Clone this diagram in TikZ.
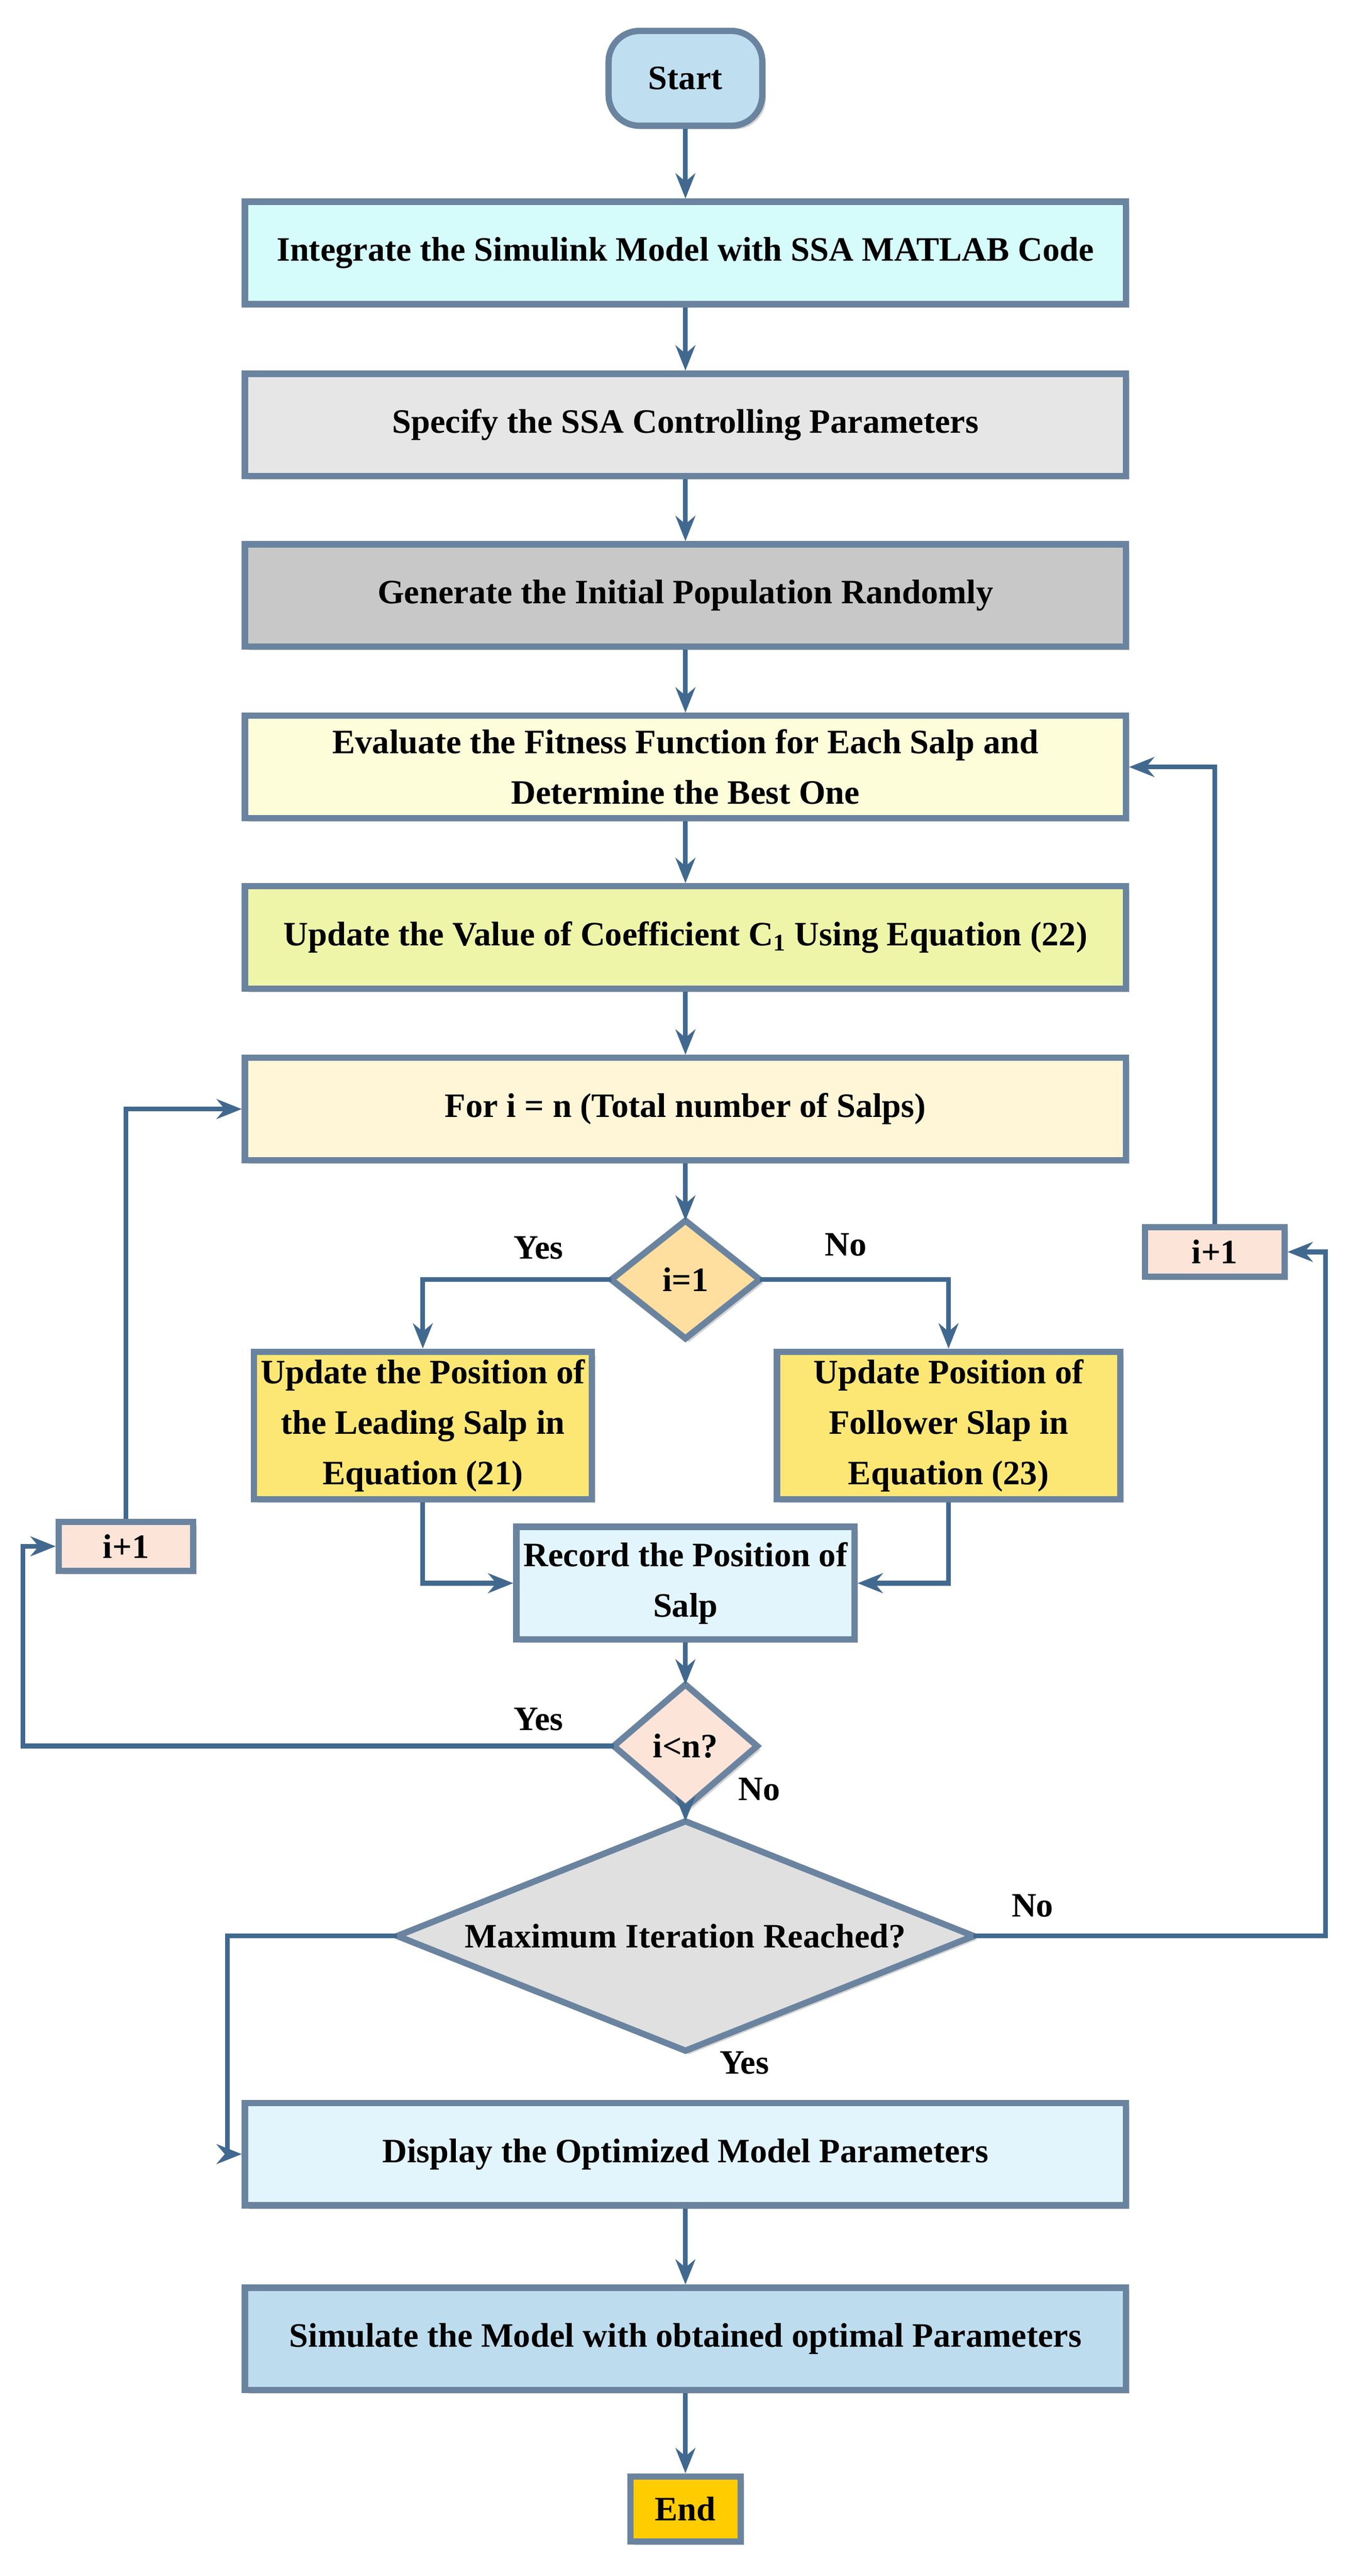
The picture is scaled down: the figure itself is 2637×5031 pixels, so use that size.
\documentclass[tikz,border=0pt]{standalone}
\usepackage{fontspec}
\setmainfont{Liberation Serif}
\usetikzlibrary{shapes.geometric,arrows.meta,shadows}
\definecolor{ln}{HTML}{41698F}
\definecolor{bd}{HTML}{6A84A0}
\definecolor{cStart}{HTML}{BFDFF0}
\definecolor{cA}{HTML}{D5FBFB}
\definecolor{cB}{HTML}{E6E6E6}
\definecolor{cC}{HTML}{C8C8C8}
\definecolor{cD}{HTML}{FDFDDA}
\definecolor{cE}{HTML}{EEF5A8}
\definecolor{cF}{HTML}{FFF6D8}
\definecolor{cG}{HTML}{FFDF9F}
\definecolor{cY}{HTML}{FDE774}
\definecolor{cR}{HTML}{E2F4FC}
\definecolor{cP}{HTML}{FCE4D8}
\definecolor{cM}{HTML}{E0E0E0}
\definecolor{cS}{HTML}{BDDDEF}
\definecolor{cEnd}{HTML}{FFCC00}
\begin{document}
\begin{tikzpicture}[x=0.01cm,y=-0.01cm,
 fnt/.style={font=\fontsize{19}{28}\selectfont\bfseries},
 box/.style={fnt,draw=bd,line width=3.5pt,minimum width=17.2cm,minimum height=2cm,align=center,drop shadow={shadow xshift=2pt,shadow yshift=-2pt,opacity=.35}},
 dshape/.style={draw=bd,line width=3.5pt,drop shadow={shadow xshift=2pt,shadow yshift=-2pt,opacity=.35}},
 arr/.style={draw=ln,line width=2.6pt,-{Stealth[length=14pt,width=11pt]}},
 lab/.style={fnt}]
\useasboundingbox (0,0) rectangle (2637,5031);
\node[box,fill=cStart,minimum width=3cm,minimum height=1.85cm,rounded corners=0.6cm] (start) at (1339,153) {Start};
\node[box,fill=cA] (b1) at (1339,494) {Integrate the Simulink Model with SSA MATLAB Code};
\node[box,fill=cB] (b2) at (1339,830) {Specify the SSA Controlling Parameters};
\node[box,fill=cC] (b3) at (1339,1163) {Generate the Initial Population Randomly};
\node[box,fill=cD] (b4) at (1339,1498) {Evaluate the Fitness Function for Each Salp and\\Determine the Best One};
\node[box,fill=cE] (b5) at (1339,1831) {Update the Value of Coefficient C\textsubscript{1} Using Equation (22)};
\node[box,fill=cF] (b6) at (1339,2166) {For i = n (Total number of Salps)};
% diamond i=1
\coordinate (d1n) at (1339,2384); \coordinate (d1s) at (1339,2614);
\coordinate (d1w) at (1194,2499); \coordinate (d1e) at (1484,2499);
\path[dshape,fill=cG] (d1n) -- (d1e) -- (d1s) -- (d1w) -- cycle;
\node[fnt] (d1) at (1339,2499) {i=1};
\node[box,fill=cY,minimum width=6.6cm,minimum height=2.88cm] (lb) at (826,2784) {Update the Position of\\the Leading Salp in\\Equation (21)};
\node[box,fill=cY,minimum width=6.7cm,minimum height=2.88cm] (rb) at (1853,2784) {Update Position of\\Follower Slap in\\Equation (23)};
\node[box,fill=cR,minimum width=6.6cm,minimum height=2.2cm] (rec) at (1339,3092) {Record the Position of\\Salp};
% diamond i<n?
\coordinate (d2n) at (1339,3290); \coordinate (d2s) at (1339,3530);
\coordinate (d2w) at (1199,3410); \coordinate (d2e) at (1479,3410);
\path[dshape,fill=cP] (d2n) -- (d2e) -- (d2s) -- (d2w) -- cycle;
\node[fnt] (d2) at (1339,3410) {i<n?};
\node[box,fill=cP,minimum width=2.62cm,minimum height=0.96cm] (li) at (246,3020) {i+1};
\node[box,fill=cP,minimum width=2.72cm,minimum height=0.96cm] (ri) at (2373,2445) {i+1};
% diamond max
\coordinate (d3n) at (1339,3557); \coordinate (d3s) at (1339,4005);
\coordinate (d3w) at (776,3781); \coordinate (d3e) at (1902,3781);
\path[dshape,fill=cM] (d3n) -- (d3e) -- (d3s) -- (d3w) -- cycle;
\node[fnt] (d3) at (1339,3781) {Maximum Iteration Reached?};
\node[box,fill=cR] (b7) at (1339,4207) {Display the Optimized Model Parameters};
\node[box,fill=cS] (b8) at (1339,4568) {Simulate the Model with obtained optimal Parameters};
\node[box,fill=cEnd,minimum width=2.15cm,minimum height=1.27cm] (end) at (1339,4900) {End};
\draw[arr] (start) -- (b1);
\draw[arr] (b1) -- (b2);
\draw[arr] (b2) -- (b3);
\draw[arr] (b3) -- (b4);
\draw[arr] (b4) -- (b5);
\draw[arr] (b5) -- (b6);
\draw[arr] (b6) -- (d1n);
\draw[arr] (d1w) -| (lb.north);
\draw[arr] (d1e) -| (rb.north);
\draw[arr] (lb.south) |- (rec.west);
\draw[arr] (rb.south) |- (rec.east);
\draw[arr] (rec) -- (d2n);
\draw[arr] (d2s) -- (d3n);
\coordinate (c1) at (45,3410);
\draw[arr] (d2w) -- (c1) |- (li.west);
\draw[arr] (li.north) |- (b6.west);
\coordinate (c2) at (2589,3781);
\draw[arr] (d3e) -- (c2) |- (ri.east);
\draw[arr] (ri.north) |- (b4.east);
\coordinate (c3) at (444,3781);
\draw[arr] (d3w) -- (c3) |- (b7.west);
\draw[arr] (b7) -- (b8);
\draw[arr] (b8) -- (end);
\node[lab] (y1) at (1052,2437) {Yes};
\node[lab] (n1) at (1652,2431) {No};
\node[lab] (y2) at (1052,3358) {Yes};
\node[lab] (n2) at (1483,3495) {No};
\node[lab] (n3) at (2017,3722) {No};
\node[lab] (y3) at (1454,4029) {Yes};
\end{tikzpicture}
\end{document}
